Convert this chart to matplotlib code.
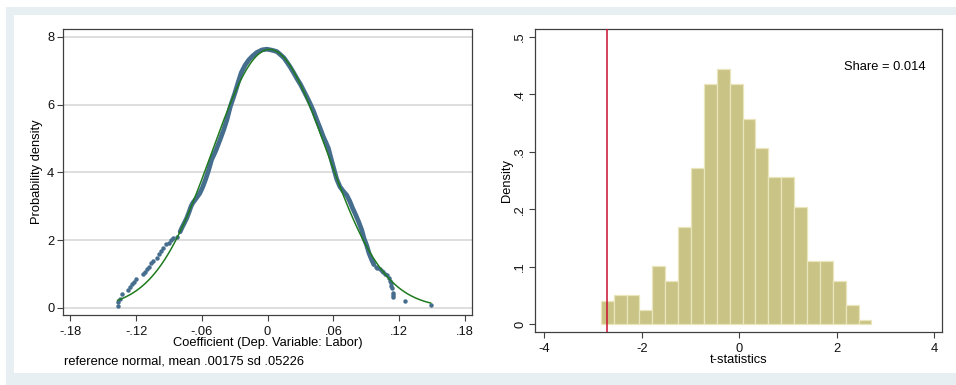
import matplotlib
matplotlib.use('Agg')
import matplotlib.pyplot as plt
from matplotlib.patches import Rectangle
import numpy as np

plt.rcParams.update({
    'font.family': ['Liberation Sans', 'DejaVu Sans'],
    'font.size': 9.3,
})

# ---- left panel: density of the coefficient (dots) ----
tail_left_x = [-0.1369, -0.1363, -0.1350, -0.1326, -0.1278, -0.1260, -0.1241, -0.1223,
               -0.1202, -0.1141, -0.1120, -0.1101, -0.1083, -0.1065, -0.1047, -0.1010,
               -0.0989, -0.0971, -0.0950, -0.0931, -0.0901, -0.0880, -0.0859, -0.0828]
tail_left_y = [0.07, 0.17, 0.26, 0.41, 0.53, 0.61, 0.70, 0.78,
               0.87, 0.99, 1.06, 1.14, 1.22, 1.32, 1.40, 1.49,
               1.59, 1.67, 1.78, 1.89, 1.93, 2.01, 2.06, 2.10]

core_x = [-0.0798, -0.0782, -0.0761, -0.0737, -0.0716, -0.0700, -0.0685, -0.0660,
          -0.0620, -0.0595, -0.0568, -0.0540, -0.0512, -0.0472, -0.0435, -0.0400,
          -0.0372, -0.0340, -0.0300, -0.0265, -0.0240, -0.0205, -0.0170, -0.0140,
          -0.0100, -0.0050, -0.0007, 0.0040, 0.0084, 0.0120, 0.0150, 0.0180,
          0.0205, 0.0240, 0.0266, 0.0300, 0.0327, 0.0360, 0.0387, 0.0420,
          0.0449, 0.0480, 0.0509, 0.0530, 0.0554, 0.0580, 0.0605, 0.0631,
          0.0660, 0.0690, 0.0722, 0.0750, 0.0775, 0.0798, 0.0830, 0.0859,
          0.0880, 0.0904, 0.0925, 0.0950, 0.0970]
core_y = [2.25, 2.37, 2.50, 2.66, 2.84, 2.99, 3.09, 3.20,
          3.38, 3.55, 3.78, 4.05, 4.37, 4.65, 4.96, 5.27,
          5.55, 5.95, 6.33, 6.70, 6.95, 7.17, 7.33, 7.43,
          7.54, 7.62, 7.64, 7.61, 7.57, 7.47, 7.38, 7.24,
          7.12, 6.93, 6.78, 6.60, 6.43, 6.22, 6.04, 5.80,
          5.55, 5.30, 5.05, 4.90, 4.72, 4.40, 4.10, 3.80,
          3.58, 3.45, 3.33, 3.15, 2.95, 2.79, 2.55, 2.30,
          2.05, 1.85, 1.62, 1.42, 1.28]

tail_right_x = [0.0985, 0.1000, 0.1026, 0.1041, 0.1056, 0.1071, 0.1086, 0.1111,
                0.1117, 0.1123, 0.1129, 0.1135, 0.1141, 0.1144, 0.1147, 0.1253, 0.1488]
tail_right_y = [1.22, 1.18, 1.14, 1.10, 1.05, 1.01, 0.97, 0.88,
                0.80, 0.73, 0.65, 0.58, 0.45, 0.38, 0.32, 0.21, 0.09]

ref_mean = 0.00175
ref_sd = 0.05226

left_xticks = [-0.18, -0.12, -0.06, 0, 0.06, 0.12, 0.18]
left_xticklabels = ['-.18', '-.12', '-.06', '0', '.06', '.12', '.18']
left_yticks = [0, 2, 4, 6, 8]

# ---- right panel: histogram of t-statistics ----
t_min = -2.840
bin_width = 0.2644
t_density = [0.0407, 0.0499, 0.0499, 0.0238, 0.101, 0.0755, 0.1696, 0.2724,
             0.4175, 0.4437, 0.4175, 0.3577, 0.3066, 0.2555, 0.2555, 0.2038,
             0.1098, 0.1098, 0.0755, 0.0325, 0.0070]
t_crit = -2.705
share = 0.014

right_xticks = [-4, -2, 0, 2, 4]
right_yticks = [0, 0.1, 0.2, 0.3, 0.4, 0.5]
right_yticklabels = ['0', '.1', '.2', '.3', '.4', '.5']

W, H = 956, 385
fig = plt.figure(figsize=(W / 100, H / 100), dpi=100)
fig.patch.set_facecolor('white')
fig.patches.append(Rectangle((6 / W, 0), 1, 1 - 7 / H, transform=fig.transFigure,
                             facecolor='#e7eff2', edgecolor='none', zorder=-10))
fig.patches.append(Rectangle((14 / W, 1 - 373 / H), 1, (373 - 15) / H, transform=fig.transFigure,
                             facecolor='white', edgecolor='none', zorder=-9))

spine_col = '#404040'


def style_axes(ax):
    for s in ax.spines.values():
        s.set_color(spine_col)
        s.set_linewidth(0.9)
    ax.tick_params(direction='out', length=4.3, width=0.8, color=spine_col,
                   labelcolor='#111111', top=False, right=False)
    ax.tick_params(axis='x', pad=3.5)
    ax.tick_params(axis='y', pad=2)


# left
ax1 = fig.add_axes([63 / W, 1 - 315 / H, (472 - 63) / W, (315 - 29) / H])
style_axes(ax1)
ax1.set_xlim(-0.1867, 0.1865)
ax1.set_ylim(-0.207, 8.236)
ax1.set_xticks(left_xticks)
ax1.set_xticklabels(left_xticklabels)
ax1.set_yticks(left_yticks)
for yv in left_yticks:
    ax1.axhline(yv, color='#dedede', linewidth=1.4, zorder=0)

mk = dict(color='#456d8e', marker='o', markersize=3.2, linestyle='none',
          markeredgewidth=0, zorder=2)
ax1.plot(tail_left_x, tail_left_y, **mk)
ax1.plot(tail_right_x, tail_right_y, **mk)
ax1.plot(core_x, core_y, color='#456d8e', linewidth=3.4, solid_capstyle='round',
         solid_joinstyle='round', zorder=2)

all_x = tail_left_x + core_x + tail_right_x
xs = np.linspace(min(all_x), max(all_x), 300)
ys = np.exp(-0.5 * ((xs - ref_mean) / ref_sd) ** 2) / (np.sqrt(2 * np.pi) * ref_sd)
ax1.plot(xs, ys, color='#1f7a1f', linewidth=1.1, zorder=3)

ax1.set_ylabel('Probability density')
ax1.yaxis.set_label_coords(-0.050, 0.5)
ax1.set_xlabel('Coefficient (Dep. Variable: Labor)')
ax1.xaxis.set_label_coords(0.5, -0.077)
fig.text(64 / W, 1 - 361 / H, 'reference normal, mean {0} sd {1}'.format(
    ('%.5f' % ref_mean).lstrip('0'), ('%.5f' % ref_sd).lstrip('0')),
    ha='left', va='center')

# right
ax2 = fig.add_axes([535 / W, 1 - 332 / H, (942 - 535) / W, (332 - 29) / H])
style_axes(ax2)
ax2.set_xlim(-4.19, 4.16)
ax2.set_ylim(-0.0139, 0.514)
edges = t_min + bin_width * np.arange(len(t_density))
ax2.bar(edges, t_density, width=bin_width, align='edge', color='#cac386',
        edgecolor='#e9e5bd', linewidth=0.9, zorder=1)
ax2.axvline(t_crit, color='#c8102e', linewidth=1.1, zorder=3)
ax2.set_xticks(right_xticks)
ax2.set_xticklabels([str(v) for v in right_xticks])
ax2.set_yticks(right_yticks)
ax2.set_yticklabels(right_yticklabels, rotation=90, va='center')
ax2.text(3.82, 0.448, 'Share = {0:.3f}'.format(share), ha='right', va='center')
ax2.set_ylabel('Density')
ax2.yaxis.set_label_coords(-0.053, 0.5)
ax2.set_xlabel('t-statistics')
ax2.xaxis.set_label_coords(0.5, -0.0726)

fig.savefig('out.png', dpi=100)
